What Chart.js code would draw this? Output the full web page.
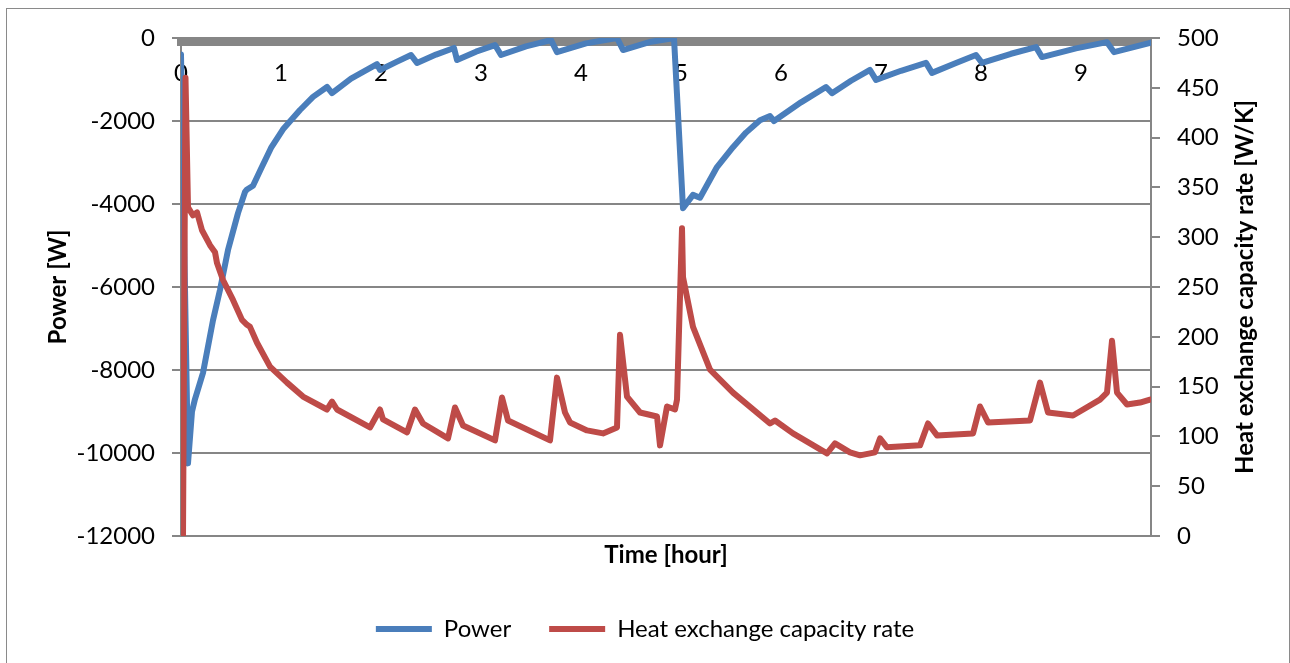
<!DOCTYPE html>
<html>
<head>
<meta charset="utf-8">
<script src="https://cdn.jsdelivr.net/npm/chart.js@4.4.1/dist/chart.umd.min.js"></script>
<style>
    body { margin: 0; background: #fff; }
    #marco { position: absolute; left: 6px; top: 8px; width: 1282px; height: 700px; border: 1px solid #8a8a8a; }
    #grafico { position: absolute; left: 0; top: 0; }
</style>
</head>
<body>
<div id="marco"></div>
<canvas id="grafico" width="1290" height="663"></canvas>
<script>
// Power [W] vs time [hour]
const powerHours = [0.00, 0.07, 0.11, 0.14, 0.22, 0.32, 0.39, 0.47, 0.57, 0.64, 0.66, 0.72, 0.80, 0.90, 1.02, 1.19, 1.32, 1.46, 1.51, 1.70,
    1.96, 1.99, 2.15, 2.30, 2.36, 2.55, 2.73, 2.76, 2.95, 3.14, 3.20, 3.45, 3.70, 3.76, 4.05, 4.36, 4.42, 4.70, 4.93, 5.02,
    5.12, 5.19, 5.36, 5.52, 5.65, 5.79, 5.89, 5.93, 6.20, 6.45, 6.51, 6.70, 6.89, 6.95, 7.20, 7.45, 7.51, 7.75, 7.95, 8.01, 8.30,
    8.55, 8.61, 8.95, 9.26, 9.33, 9.70];
const powerWatts = [-400, -10250, -9000, -8700, -8070, -6800, -6070, -5110, -4220, -3710, -3650, -3560, -3150, -2650, -2200, -1735, -1420, -1180, -1330, -980,
    -630, -770, -580, -410, -600, -400, -240, -530, -330, -170, -410, -200, -50, -340, -130, 0, -290, -90, 0, -4100,
    -3780, -3850, -3110, -2630, -2280, -1980, -1880, -2000, -1550, -1180, -1330, -1030, -770, -1010, -790, -600, -840, -600, -410, -600, -380,
    -220, -460, -250, -100, -340, -110];

// Heat exchange capacity rate [W/K] vs time [hour]
const hxHours = [0.00, 0.02, 0.045, 0.07, 0.12, 0.16, 0.21, 0.29, 0.34, 0.36, 0.42, 0.52, 0.61, 0.66, 0.69, 0.76, 0.89, 1.06, 1.22, 1.46,
    1.51, 1.56, 1.89, 1.99, 2.02, 2.26, 2.34, 2.42, 2.67, 2.74, 2.82, 3.14, 3.21, 3.27, 3.69, 3.76, 3.84, 3.89, 4.06, 4.22,
    4.36, 4.39, 4.46, 4.59, 4.76, 4.79, 4.86, 4.94, 4.96, 5.01, 5.02, 5.12, 5.29, 5.52, 5.89, 5.94, 6.12, 6.46, 6.54, 6.69,
    6.79, 6.94, 6.99, 7.06, 7.39, 7.47, 7.56, 7.92, 7.99, 8.07, 8.49, 8.59, 8.67, 8.92, 9.19, 9.26, 9.31, 9.36, 9.46, 9.59, 9.69];
const hxValues = [0, 0, 460, 330, 322, 325, 307, 292, 285, 274, 257, 237, 217, 212, 210, 194, 170, 154, 140, 127,
    135, 127, 109, 127, 117, 104, 127, 113, 98, 129, 111, 96, 139, 116, 96, 159, 124, 114, 106, 103,
    109, 202, 140, 124, 120, 91, 130, 127, 137, 309, 260, 210, 167, 144, 113, 116, 103, 83, 93, 84,
    81, 84, 98, 89, 91, 113, 101, 103, 130, 114, 116, 154, 124, 121, 137, 144, 196, 144, 132, 134, 137];

const powerTicks = [-12000, -10000, -8000, -6000, -4000, -2000, 0];
const hxTicks = [0, 50, 100, 150, 200, 250, 300, 350, 400, 450, 500];

const tituloDerecho = 'Heat exchange capacity rate [W/K]';
const gris = '#868686';

Chart.defaults.font.family = 'Lato';
Chart.defaults.color = '#000';

// Excel pone este título de abajo hacia arriba, Chart.js lo gira al revés
const tituloDerechoPlugin = {
    id: 'tituloDerecho',
    afterDraw(chart) {
        const {ctx, chartArea} = chart;
        const escala = chart.scales.yHx;
        ctx.save();
        ctx.font = 'bold 24px Lato';
        ctx.fillStyle = '#000';
        ctx.textAlign = 'center';
        ctx.textBaseline = 'middle';
        ctx.translate(escala.right - 45, (chartArea.top + chartArea.bottom) / 2);
        ctx.rotate(-Math.PI / 2);
        ctx.fillText(tituloDerecho, 0, 0);
        ctx.restore();
    }
};

iniciarGrafico();

function iniciarGrafico() {
    const ctx = document.getElementById('grafico');

    new Chart(ctx, {
        type: 'line',
        data: {
            datasets: [{
                label: 'Power',
                data: powerHours.map((h, i) => ({x: h, y: powerWatts[i]})),
                xAxisID: 'x',
                yAxisID: 'yPower',
                borderColor: '#4A7EBB',
                backgroundColor: '#4A7EBB',
                borderWidth: 6,
                borderCapStyle: 'round',
                borderJoinStyle: 'round',
                pointRadius: 0,
                tension: 0,
                order: 1
            }, {
                label: 'Heat exchange capacity rate',
                data: hxHours.map((h, i) => ({x: h, y: hxValues[i]})),
                xAxisID: 'x',
                yAxisID: 'yHx',
                borderColor: '#BE4B48',
                backgroundColor: '#BE4B48',
                borderWidth: 6,
                borderCapStyle: 'round',
                borderJoinStyle: 'round',
                pointRadius: 0,
                tension: 0,
                order: 0
            }]
        },
        options: {
            responsive: false,
            animation: false,
            layout: {
                padding: {left: 0, right: 0, top: 38, bottom: 12}
            },
            plugins: {
                tooltip: {enabled: false},
                legend: {
                    position: 'bottom',
                    labels: {
                        usePointStyle: true,
                        pointStyle: 'line',
                        pointStyleWidth: 56,
                        padding: 38,
                        font: {size: 24},
                        color: '#000',
                        sort: (a, b) => a.datasetIndex - b.datasetIndex
                    }
                }
            },
            scales: {
                x: {
                    type: 'linear',
                    min: 0,
                    max: 9.7,
                    position: {yPower: -90},
                    grid: {display: false, drawTicks: false},
                    border: {color: gris, width: 9},
                    ticks: {
                        stepSize: 1,
                        includeBounds: false,
                        padding: 17,
                        maxRotation: 0,
                        font: {size: 24},
                        color: '#000',
                        callback: v => String(v)
                    }
                },
                xTitulo: {
                    type: 'linear',
                    axis: 'x',
                    min: 0,
                    max: 9.7,
                    position: 'bottom',
                    grid: {display: false, drawTicks: false},
                    border: {display: false},
                    ticks: {display: false},
                    title: {
                        display: true,
                        text: 'Time [hour]',
                        color: '#000',
                        font: {size: 24, weight: 'bold'},
                        padding: {top: 0, bottom: 9}
                    },
                    afterFit: s => { s.height = 43; }
                },
                yPower: {
                    type: 'linear',
                    position: 'left',
                    min: powerTicks[0],
                    max: powerTicks[powerTicks.length - 1],
                    afterBuildTicks: s => { s.ticks = powerTicks.map(v => ({value: v})); },
                    grid: {color: gris, lineWidth: 2, tickLength: 9},
                    border: {color: gris, width: 2},
                    ticks: {padding: 17, font: {size: 24}, color: '#000', callback: v => String(v)},
                    title: {
                        display: true,
                        text: 'Power [W]',
                        color: '#000',
                        font: {size: 24, weight: 'bold'},
                        padding: {top: 44, bottom: 0}
                    },
                    afterFit: s => { s.width = 181; }
                },
                yHx: {
                    type: 'linear',
                    position: 'right',
                    min: hxTicks[0],
                    max: hxTicks[hxTicks.length - 1],
                    afterBuildTicks: s => { s.ticks = hxTicks.map(v => ({value: v})); },
                    grid: {drawOnChartArea: false, color: gris, lineWidth: 2, tickLength: 9},
                    border: {color: gris, width: 2},
                    ticks: {padding: 17, font: {size: 24}, color: '#000', callback: v => String(v)},
                    afterFit: s => { s.width = 139; }
                }
            }
        },
        plugins: [tituloDerechoPlugin]
    });
}
</script>
</body>
</html>
